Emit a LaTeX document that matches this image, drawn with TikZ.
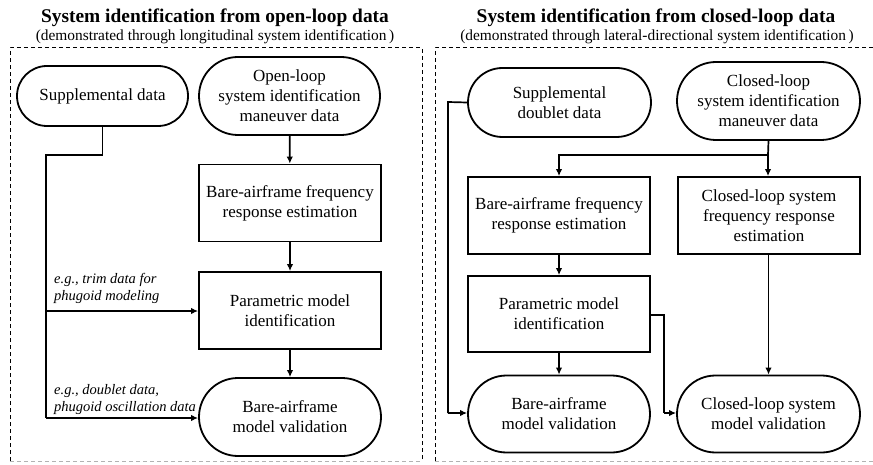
\documentclass[tikz,border=0pt]{standalone}
\usepackage{fontspec}
\setmainfont{Liberation Serif}
\usetikzlibrary{shapes.misc,arrows.meta}
\begin{document}
\begin{tikzpicture}[x=1pt,y=-1pt,
  boxtxt/.style={align=center,font=\fontsize{17}{20}\selectfont},
  box/.style={boxtxt,draw,line width=1.8pt,rectangle,inner sep=0pt,minimum width=182pt,minimum height=77pt},
  pill/.style={boxtxt,draw,line width=1.8pt,rounded rectangle,inner sep=0pt,minimum width=182pt,minimum height=78pt},
  conn/.style={line width=1.7pt},
  arr/.style={conn,-{Latex[length=7pt,width=6.5pt]}},
  note/.style={align=left,inner sep=0pt,anchor=north west,font=\fontsize{14.5}{17.5}\selectfont\itshape},
  frame/.style={dash pattern=on 4pt off 3pt,line width=1pt},
  ttl/.style={font=\fontsize{19.4}{22}\selectfont\bfseries},
  sub/.style={font=\fontsize{15.4}{17}\selectfont}
]
\useasboundingbox (0,0) rectangle (873,465);

% titles
\node[ttl] (t1) at (215,18) {System identification from open-loop data};
\node[sub] (s1) at (215,37) {(demonstrated through longitudinal system identification\,)};
\node[ttl] (t2) at (656,18) {System identification from closed-loop data};
\node[sub] (s2) at (657,37) {(demonstrated through lateral-directional system identification\,)};

% frames
\draw[frame] (10,461) -- (10,48) -- (422,48) -- (422,461);
\draw[frame,gray!60] (10,461) -- (422,461);
\draw[frame] (435,461) -- (435,48) -- (873,48);
\draw[frame,gray!60] (435,461) -- (873,461);

% left panel
\node[pill,minimum width=171pt,minimum height=60pt] (supL) at (102.5,96) {Supplemental data};
\node[pill,minimum width=181pt] (olL) at (289.5,96) {Open-loop\\system identification\\maneuver data};
\node[box] (bfL) at (290,203) {Bare-airframe frequency\\response estimation};
\node[box] (pmL) at (290,310.5) {Parametric model\\identification};
\node[pill] (vL) at (290,417) {Bare-airframe\\model validation};

\coordinate (jL1) at (46,155);
\coordinate (jL2) at (46,311);
\coordinate (jL3) at (46,418);
\draw[conn] (supL.south) |- (jL1) -- (jL3);
\draw[arr] (jL2) -- (jL2 -| pmL.west);
\draw[arr] (jL3) -- (jL3 -| vL.west);
\draw[arr] (olL) -- (bfL);
\draw[arr] (bfL) -- (pmL);
\draw[arr] (pmL) -- (vL);

\node[note] (n1) at (54,273) {e.g., trim data for\\phugoid modeling};
\node[note] (n2) at (54,384) {e.g., doublet data,\\phugoid oscillation data};

% right panel
\node[pill,minimum width=183pt,minimum height=69pt] (supR) at (559.5,102.5) {Supplemental\\doublet data};
\node[pill,minimum width=183pt] (olR) at (768.5,101) {Closed-loop\\system identification\\maneuver data};
\node[box] (bfR) at (559,215.5) {Bare-airframe frequency\\response estimation};
\node[box] (cfR) at (769,215.5) {Closed-loop system\\frequency response\\estimation};
\node[box,minimum height=76pt] (pmR) at (559,314) {Parametric model\\identification};
\node[pill,minimum height=77pt] (vR) at (559,414) {Bare-airframe\\model validation};
\node[pill,minimum width=183pt,minimum height=77pt] (cvR) at (768.5,414) {Closed-loop system\\model validation};

\coordinate (jR) at (768,155);
\draw[conn] (olR.south) -- (jR);
\draw[arr] (jR) -- (jR |- cfR.north);
\draw[arr] (jR) -| (bfR.north);
\draw[arr] (bfR) -- (pmR);
\draw[arr] (pmR) -- (vR);
\draw[arr] (cfR.south -| cvR.north) -- (cvR.north);

\coordinate (jR2) at (448,102);
\coordinate (jR3) at (448,413);
\draw[conn] (supR.west) -- (jR2) -- (jR3);
\draw[arr] (jR3) -- (jR3 -| vR.west);

\coordinate (jR4) at (664,315);
\coordinate (jR5) at (664,413);
\draw[conn] (pmR.east |- jR4) -- (jR4) -- (jR5);
\draw[arr] (jR5) -- (jR5 -| cvR.west);
\end{tikzpicture}
\end{document}
